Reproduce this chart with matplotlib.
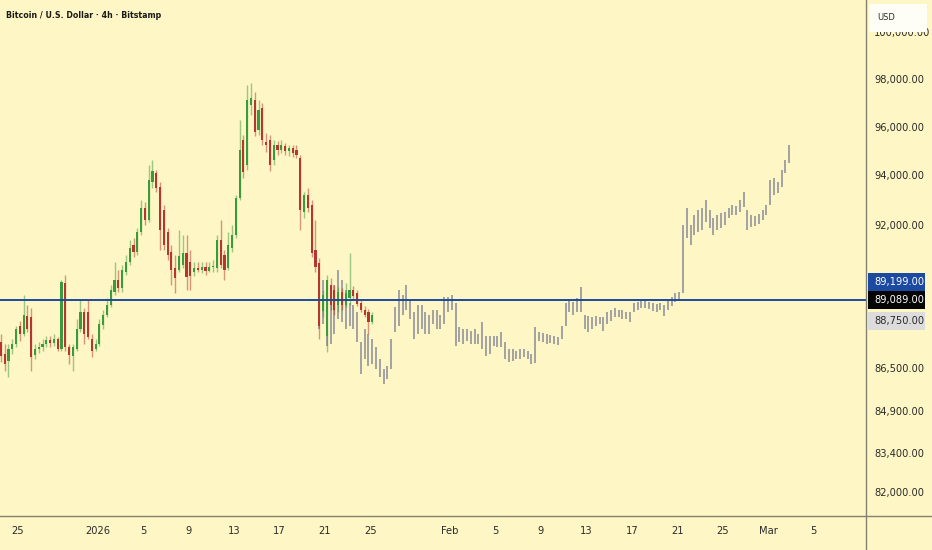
import pandas as pd
import matplotlib
matplotlib.use("Agg")
import matplotlib.pyplot as plt
from matplotlib import font_manager
from matplotlib.lines import Line2D
from matplotlib.patches import Rectangle
from matplotlib.ticker import NullLocator, NullFormatter

BG = "#fef6c4"
UP = "#3a9a3e"
DOWN = "#b5362f"
GHOST = "#a2a2a2"
LEVEL = "#1c4aa0"
INK = "#2a2a2a"

# candles, 8h steps from 2025-12-23 12:00
candle_open = [87460, 87009, 86747, 87196, 87385, 88064, 87762, 88482, 88406, 86972,
               87196, 87271, 87385, 87535, 87422, 87573, 87196, 89748, 87271, 86934,
               87196, 87950, 88635, 88635, 87573, 87196, 87385, 88102, 88520, 88902,
               89401, 89864, 89555, 90174, 90563, 91228, 90954, 91741, 92694, 92216,
               93737, 94102, 93536, 92614, 91741, 90954, 90330, 90252, 90447, 90915,
               90563, 90174, 90330, 90252, 90369, 90213, 90369, 90330, 91425, 90836,
               90330, 91111, 91623, 93094, 95448, 94427, 96899, 97108, 95860, 96774,
               95366, 95448, 94630, 95243, 95038, 95202, 94997, 95120, 95038, 94712,
               92534, 93214, 92814, 91032, 90524, 88673, 87686, 89671, 89478, 88902,
               89401, 88902, 89170, 89478, 89363, 88978, 88711, 88597, 88216]
candle_high = [87762, 87385, 87385, 87573, 88064, 88254, 89286, 88902, 88787, 87385,
               87460, 87573, 87686, 87686, 87762, 87648, 89864, 90058, 87385, 87385,
               88330, 89093, 88787, 89093, 87762, 87573, 88330, 88711, 89170, 89671,
               90563, 90252, 90447, 90836, 91425, 91504, 91899, 93014, 92934, 94427,
               94630, 94223, 93737, 92814, 91899, 91228, 90836, 91820, 91623, 91623,
               91032, 90563, 90563, 90563, 90563, 90563, 90641, 91623, 92216, 91032,
               91741, 92018, 93214, 96274, 95654, 97738, 97823, 97443, 97108, 96982,
               95736, 95654, 95448, 95407, 95448, 95325, 95243, 95243, 95243, 94834,
               93335, 93496, 93014, 92216, 90719, 89478, 90058, 89942, 89671, 89594,
               89555, 89748, 90915, 89632, 89478, 89093, 88864, 88749, 88597]
candle_low = [86710, 86375, 86152, 87009, 87271, 87498, 87686, 87837, 86375, 86822,
              87046, 87121, 87271, 87271, 87309, 87121, 87121, 87121, 86635, 86375,
              87121, 87837, 87385, 87573, 86897, 87121, 87309, 87950, 88406, 88825,
              89286, 89401, 89401, 90058, 90447, 90758, 90836, 91623, 92018, 92137,
              93496, 93335, 91032, 91032, 90641, 89671, 89363, 90174, 90330, 89478,
              89478, 90019, 90174, 90136, 90058, 90174, 90174, 90174, 90330, 89864,
              90252, 90954, 91504, 93014, 93899, 94223, 96482, 95613, 95654, 95243,
              94956, 94183, 94427, 94834, 94916, 94834, 94793, 94752, 94712, 91820,
              92296, 92534, 90758, 90174, 87573, 88406, 87084, 88711, 88520, 88635,
              88711, 88825, 88902, 89093, 88864, 88597, 88406, 87762, 88140]
candle_close = [86934, 86635, 87196, 87385, 87950, 87762, 88520, 87950, 86897, 87196,
                87271, 87385, 87535, 87422, 87573, 87196, 89787, 87271, 86972, 87271,
                87950, 88635, 87762, 87648, 87121, 87385, 88140, 88520, 88902, 89478,
                89864, 89555, 90252, 90563, 91111, 90954, 91741, 92694, 92216, 93818,
                94183, 93496, 91820, 91228, 90836, 90252, 89942, 90797, 90915, 89980,
                90019, 90330, 90252, 90369, 90213, 90369, 90408, 91425, 90447, 90252,
                91228, 91623, 93094, 95038, 94142, 97108, 97192, 95778, 96690, 95448,
                95243, 94427, 95243, 95038, 95243, 94997, 95120, 94916, 94834, 92614,
                93214, 92694, 90915, 90369, 88064, 89286, 89864, 88902, 88711, 89401,
                88902, 89363, 89478, 89247, 88940, 88711, 88520, 88216, 88520]

# projected (ghost) bars, same 8h grid, starting at candle index 84
GHOST_START = 84
ghost_high = [90136, 89864, 89748, 89478, 89671, 90252, 89864, 89478, 88978, 88902,
              88597, 87460, 87950, 87762, 87573, 87271, 86822, 86449, 86561, 87573,
              88825, 89478, 89286, 89671, 89093, 88597, 88902, 88902, 88597, 88520,
              88711, 88711, 88520, 89209, 89209, 89286, 88978, 88026, 87950, 87950,
              87875, 87950, 87762, 88216, 87686, 87686, 87686, 87686, 87837, 87460,
              87196, 87196, 87121, 87196, 87196, 87121, 87009, 88026, 87837, 87799,
              87762, 87724, 87686, 87648, 88064, 88978, 89093, 89017, 89170, 89594,
              88520, 88444, 88406, 88444, 88406, 88406, 88635, 88711, 88787, 88711,
              88711, 88635, 88597, 88978, 89017, 89093, 89055, 89017, 88978, 88940,
              88978, 88902, 89093, 89209, 89363, 89401, 92018, 92694, 92018, 92415,
              92614, 92694, 93014, 92614, 92296, 92415, 92495, 92534, 92694, 92814,
              92774, 93014, 93335, 92614, 92415, 92375, 92455, 92614, 92814, 93818,
              93899, 93737, 94223, 94630, 95243]
ghost_low = [87950, 88140, 87309, 87385, 87762, 88330, 88216, 87950, 88064, 87950,
             87460, 86264, 86822, 86561, 86635, 86449, 86152, 85893, 86078, 86449,
             87837, 88064, 88520, 88711, 88330, 87573, 87762, 87950, 87762, 87762,
             88140, 87950, 87950, 88140, 88597, 88711, 87309, 87460, 87385, 87498,
             87385, 87385, 87385, 87196, 86934, 87009, 87309, 87271, 87271, 86822,
             86710, 86747, 86822, 86822, 86897, 86822, 86635, 86673, 87498, 87460,
             87385, 87422, 87385, 87347, 87573, 88064, 88597, 88520, 88597, 88597,
             87950, 87837, 87950, 88064, 88140, 87875, 88140, 88254, 88406, 88406,
             88330, 88330, 88216, 88635, 88711, 88787, 88787, 88749, 88673, 88635,
             88711, 88444, 88711, 88864, 89017, 89093, 89363, 91504, 91228, 91623,
             91741, 91820, 92137, 91899, 91623, 91820, 91899, 92018, 92296, 92415,
             92415, 92534, 92734, 91820, 91939, 91978, 92058, 92216, 92415, 92814,
             93214, 93294, 93536, 94102, 94508]

line_price = 89089
axis_labels = ["89,199.00", "89,089.00", "88,750.00"]

price_ticks = [100000, 98000, 96000, 94000, 92000, 86500, 84900, 83400, 82000]
date_ticks = ["2025-12-25", "2026-01-01", "2026-01-05", "2026-01-09", "2026-01-13",
              "2026-01-17", "2026-01-21", "2026-01-25", "2026-02-01", "2026-02-05",
              "2026-02-09", "2026-02-13", "2026-02-17", "2026-02-21", "2026-02-25",
              "2026-03-01", "2026-03-05"]
date_labels = ["25", "2026", "5", "9", "13", "17", "21", "25", "Feb", "5",
               "9", "13", "17", "21", "25", "Mar", "5"]

W, H = 932, 550
AX_RIGHT, AX_BOTTOM = 866, 516


def narrow_font(bold=False):
    """Look for an installed condensed face, else None."""
    for f in font_manager.fontManager.ttflist:
        st = str(f.stretch).lower()
        narrow = ("narrow" in f.name.lower() or "condensed" in f.name.lower()
                  or "condensed" in st or st in ("500", "400", "300"))
        is_bold = str(f.weight) in ("bold", "700", "600", "semibold")
        if narrow and is_bold == bold and f.style == "normal":
            return f.fname
    return None


reg_path = narrow_font(False)
bold_path = narrow_font(True)
if reg_path:
    lab_font = font_manager.FontProperties(fname=reg_path, size=7.9)
else:
    lab_font = font_manager.FontProperties(family="Liberation Sans", size=7.2)
if bold_path:
    title_font = font_manager.FontProperties(fname=bold_path, size=6.3)
else:
    title_font = font_manager.FontProperties(family="Liberation Sans", weight="bold", size=6.0)

jan1 = pd.Timestamp("2026-01-01")
start = pd.Timestamp("2025-12-23 12:00")
day = pd.Timedelta(days=1)
bar_time = pd.date_range(start, periods=len(candle_close), freq="8h")
x = ((bar_time - jan1) / day).to_numpy()
ghost_time = pd.date_range(bar_time[GHOST_START], periods=len(ghost_high), freq="8h")
gx = ((ghost_time - jan1) / day).to_numpy()
tick_x = ((pd.to_datetime(date_ticks) - jan1) / day).to_numpy()

fig = plt.figure(figsize=(W / 100, H / 100), dpi=100, facecolor=BG)
ax = fig.add_axes([0, (H - AX_BOTTOM) / H, AX_RIGHT / W, AX_BOTTOM / H], facecolor=BG)
for s in ax.spines.values():
    s.set_visible(False)

# ghost projection
ax.vlines(gx, ghost_low, ghost_high, color=GHOST, lw=1.4, zorder=2)

# candles
colors = [UP if cc >= oo else DOWN for oo, cc in zip(candle_open, candle_close)]
ax.vlines(x, candle_low, candle_high, color=colors, lw=1.0, alpha=0.5, zorder=3)
bottoms = [min(a, b) for a, b in zip(candle_open, candle_close)]
heights = [max(abs(b - a), 25) for a, b in zip(candle_open, candle_close)]
ax.bar(x, heights, bottom=bottoms, width=0.19, color=colors, lw=0, zorder=4)

ax.axhline(line_price, color=LEVEL, lw=1.4, zorder=5)

ax.set_yscale("log")
ax.set_ylim(81147, 101390)
ax.set_xlim(-8.575, 67.59)
ax.yaxis.set_minor_locator(NullLocator())
ax.yaxis.set_minor_formatter(NullFormatter())
ax.set_yticks(price_ticks)
ax.set_yticklabels([f"{p:,.2f}" for p in price_ticks], fontproperties=lab_font)
ax.yaxis.tick_right()
ax.tick_params(axis="y", length=0, pad=6, labelcolor=INK)
ax.set_xticks(tick_x)
ax.set_xticklabels(date_labels, fontproperties=lab_font)
ax.tick_params(axis="x", length=0, pad=7, labelcolor=INK)

# dividers of the price / time scales
fig.add_artist(Line2D([AX_RIGHT / W] * 2, [0, 1], transform=fig.transFigure,
                      color="#858170", lw=1.0))
fig.add_artist(Line2D([0, 1], [(H - AX_BOTTOM) / H] * 2, transform=fig.transFigure,
                      color="#858170", lw=1.0))

# price labels on the scale
y_line = ax.transData.transform((0, line_price))[1]
shifts = [18, 0, -21]
faces = [LEVEL, "#050505", "#dcdcdc"]
text_cols = ["white", "white", INK]
for lab, sh, fc, tc in zip(axis_labels, shifts, faces, text_cols):
    yc = y_line + sh
    fig.add_artist(Rectangle((868 / W, (yc - 9) / H), 57 / W, 18 / H, transform=fig.transFigure,
                             facecolor=fc, edgecolor="none", zorder=10))
    fig.text(874 / W, yc / H, lab, color=tc, fontproperties=lab_font, va="center", ha="left",
             zorder=11)

# currency box, covering the top of the first tick label
fig.add_artist(Rectangle((869 / W, 1 - 32 / H), 58 / W, 28 / H, transform=fig.transFigure,
                         facecolor="#fffef6", edgecolor="none", zorder=10))
fig.text(877 / W, 1 - 17 / H, "USD", fontsize=6, color=INK, va="center", zorder=11)

fig.text(6 / W, 1 - 15 / H, "Bitcoin / U.S. Dollar · 4h · Bitstamp", fontproperties=title_font,
         color="#1a1a1a", va="center")

fig.savefig("out.png", dpi=100, facecolor=BG)
